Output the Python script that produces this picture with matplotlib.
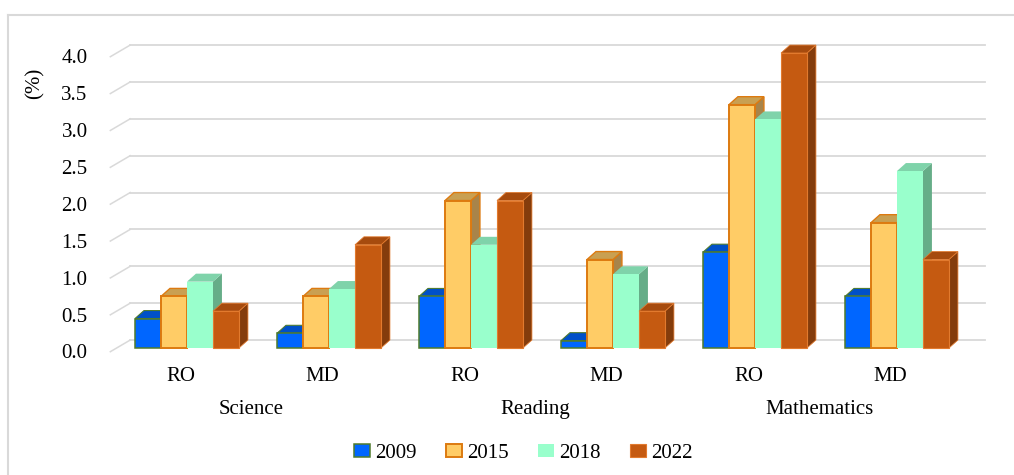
import matplotlib.pyplot as plt
from matplotlib.patches import Polygon, Patch
from matplotlib.lines import Line2D
import numpy as np

plt.rcParams['font.family'] = ['Liberation Serif', 'DejaVu Serif']
plt.rcParams['font.size'] = 15

# data
subjects = ['Science', 'Reading', 'Mathematics']
countries = ['RO', 'MD']
years = ['2009', '2015', '2018', '2022']
v2009 = [0.4, 0.2, 0.7, 0.1, 1.3, 0.7]
v2015 = [0.7, 0.7, 2.0, 1.2, 3.3, 1.7]
v2018 = [0.9, 0.8, 1.4, 1.0, 3.1, 2.4]
v2022 = [0.5, 1.4, 2.0, 0.5, 4.0, 1.2]
yticks = [0.0, 0.5, 1.0, 1.5, 2.0, 2.5, 3.0, 3.5, 4.0]

series = [v2009, v2015, v2018, v2022]
# face, side, top, edge, edge width
styles = [
    ('#0066ff', '#0047b3', '#0050c8', '#4f7b2c', 1.1),
    ('#ffcc66', '#a8844a', '#c9a052', '#dd7a10', 1.4),
    ('#99ffcc', '#66ad88', '#7fd3aa', 'none', 0),
    ('#c55a11', '#843c0c', '#a64b0e', '#e27a2e', 0.8),
]

fig = plt.figure(figsize=(10.14, 4.75), dpi=100)
ax = fig.add_axes([0, 0, 1, 1])
ax.set_xlim(-1.317, 5.824)
ax.set_ylim(-1.722, 4.719)
ax.axis('off')

# 3d depth in data units
dx, dy = 0.063, 0.108
bw = 0.183
ncat = len(v2009)

# back wall gridlines + left wall slant
for t in yticks:
    ax.plot([-0.54, -0.40], [t - 0.05, t + dy], color='#d9d9d9', lw=1.1, zorder=1)
    ax.plot([-0.40, 5.62], [t + dy, t + dy], color='#d9d9d9', lw=1.3, zorder=1)
    ax.text(-0.70, t - 0.08, f'{t:.1f}', ha='right', va='center')

# bars (side, top, then front so the next bar hides this side)
for i in range(ncat):
    for k, vals in enumerate(series):
        face, side, top, edge, lw = styles[k]
        x0 = i - 2 * bw + k * bw
        x1 = x0 + bw
        h = vals[i]
        z = 3 + i * 10 + k
        ax.add_patch(Polygon([(x1, 0), (x1 + dx, dy), (x1 + dx, h + dy), (x1, h)],
                             closed=True, facecolor=side, edgecolor=edge, lw=lw * 0.7, zorder=z))
        ax.add_patch(Polygon([(x0, h), (x0 + dx, h + dy), (x1 + dx, h + dy), (x1, h)],
                             closed=True, facecolor=top, edgecolor=edge, lw=lw * 0.7, zorder=z))
        ax.add_patch(Polygon([(x0, 0), (x1, 0), (x1, h), (x0, h)],
                             closed=True, facecolor=face, edgecolor=edge, lw=lw, zorder=z + 0.5,
                             joinstyle='miter'))

# category labels
for i in range(ncat):
    ax.text(i - 0.045, -0.38, countries[i % 2], ha='center', va='center')
for j, s in enumerate(subjects):
    ax.text(2 * j + 0.5 - 0.045, -0.84, s, ha='center', va='center')

ax.text(-1.07, 3.59, '(%)', rotation=90, ha='center', va='center')

handles = [Patch(facecolor=st[0], edgecolor=(st[3] if st[3] != 'none' else st[0]), lw=st[4])
           for st in styles]
fig.legend(handles, years, loc='center', bbox_to_anchor=(0.516, 0.046), ncol=4,
           frameon=False, handlelength=0.77, handleheight=0.55, handletextpad=0.25,
           columnspacing=1.4, fontsize=15)

# outer frame
fig.add_artist(Line2D([0.0079, 0.0079], [0, 0.968], color='#d9d9d9', lw=1.5))
fig.add_artist(Line2D([0.0079, 1.0], [0.968, 0.968], color='#d9d9d9', lw=1.5))

fig.savefig('out.png', dpi=100)
